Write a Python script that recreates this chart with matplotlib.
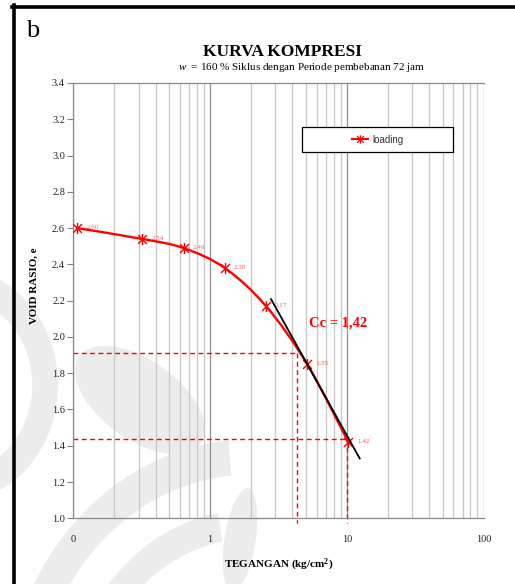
import matplotlib
matplotlib.use("Agg")
import numpy as np
import matplotlib.pyplot as plt
from matplotlib.path import Path
from matplotlib.patches import PathPatch, Rectangle, Ellipse, Wedge
from matplotlib.lines import Line2D
from matplotlib.ticker import FixedLocator, NullFormatter, MultipleLocator, FormatStrFormatter

# loading stage: pressure (kg/cm2) and void ratio
tegangan = [0.107, 0.32, 0.64, 1.28, 2.56, 5.12, 10.24]
void_ratio = [2.60, 2.54, 2.49, 2.38, 2.17, 1.85, 1.42]

# tangent for the compression index
tangent_x = [2.79, 12.4]
tangent_e = [2.208, 1.330]

# construction lines
e_upper, p_upper = 1.912, 4.32
e_lower, p_lower = 1.437, 9.95

x_ticks = [0.1, 1, 10, 100]
x_ticklabels = ["0", "1", "10", "100"]

SERIF = "Liberation Serif"
RED = "#ff0000"

plt.rcParams["mathtext.fontset"] = "custom"
plt.rcParams["mathtext.bf"] = "Liberation Serif:bold"
plt.rcParams["mathtext.rm"] = "Liberation Serif"
plt.rcParams["mathtext.it"] = "Liberation Serif:italic"

fig = plt.figure(figsize=(5.15, 5.84), dpi=100)
ax = fig.add_axes([0.1423, 0.1125, 0.797, 0.7454])
ax.set_facecolor("none")

# faint background watermark
wm = "#ececec"
for art in [
    Wedge((-45 / 515, 1 - 385 / 584), 0.20, -70, 70, width=0.05, transform=fig.transFigure),
    Ellipse((140 / 515, 1 - 400 / 584), 0.28, 0.14, angle=-30, transform=fig.transFigure),
    Wedge((250 / 515, 1 - 720 / 584), 0.48, 95, 175, width=0.06, transform=fig.transFigure),
    Wedge((250 / 515, 1 - 720 / 584), 0.36, 100, 170, width=0.05, transform=fig.transFigure),
    Ellipse((240 / 515, 1 - 540 / 584), 0.06, 0.18, angle=-10, transform=fig.transFigure),
]:
    art.set_facecolor(wm)
    art.set_edgecolor("none")
    art.set_zorder(-5)
    fig.patches.append(art)

ax.set_xscale("log")
ax.set_xlim(0.1, 100)
ax.set_ylim(1.0, 3.4)

# smoothed loading curve, cubic Bezier through the points in screen-like units
ux = np.log10(tegangan) * 136.8
vy = np.array(void_ratio) * 181.6
pts = np.column_stack([ux, vy])
n = len(pts)
tan = np.zeros_like(pts)
for i in range(n):
    a = pts[max(i - 1, 0)]
    b = pts[min(i + 1, n - 1)]
    tan[i] = (b - a) / 6.0
verts = [pts[0]]
codes = [Path.MOVETO]
for i in range(n - 1):
    verts += [pts[i] + tan[i], pts[i + 1] - tan[i + 1], pts[i + 1]]
    codes += [Path.CURVE4] * 3
verts = np.array(verts)
verts = np.column_stack([10 ** (verts[:, 0] / 136.8), verts[:, 1] / 181.6])
ax.add_patch(PathPatch(Path(verts, codes), facecolor="none", edgecolor=RED,
                       lw=1.7, zorder=3, capstyle="round"))

star = Path([(-1, -1), (1, 1), (-1, 1), (1, -1), (0, -1.25), (0, 1.25)],
            [Path.MOVETO, Path.LINETO, Path.MOVETO, Path.LINETO, Path.MOVETO, Path.LINETO])
ax.plot(tegangan, void_ratio, linestyle="none", marker=star, markersize=8,
        markeredgecolor=RED, markerfacecolor="none", markeredgewidth=1.0, zorder=4)

for p, e in zip(tegangan, void_ratio):
    ax.annotate(f"{e:.2f}", (p, e), xytext=(6.5, 0.5), textcoords="offset points",
                fontsize=5, color="#ff5a5a", va="center", ha="left", family=SERIF, zorder=2)

# construction lines
dash = dict(color=RED, lw=1.0, linestyle=(0, (3.5, 2.5)), zorder=2, antialiased=True)
ax.plot([0.1, p_upper], [e_upper, e_upper], **dash)
ax.plot([0.1, p_lower], [e_lower, e_lower], **dash)
ax.plot([p_upper, p_upper], [e_upper, 0.975], clip_on=False, **dash)
ax.plot([p_lower, p_lower], [e_lower, 0.975], clip_on=False, **dash)

ax.plot(tangent_x, tangent_e, color="black", lw=1.3, zorder=5, clip_on=False)

ax.text(0.645, 0.449, "Cc = 1,42", transform=ax.transAxes, ha="center", va="center",
        fontsize=10.5, fontweight="bold", color=RED, family=SERIF)

# axes styling
ax.xaxis.set_major_locator(FixedLocator(x_ticks))
ax.set_xticklabels(x_ticklabels)
ax.xaxis.set_minor_locator(FixedLocator([m * d for d in (0.1, 1, 10) for m in range(2, 10)]))
ax.xaxis.set_minor_formatter(NullFormatter())
ax.grid(True, axis="x", which="major", color="#8f8f8f", lw=0.9)
ax.grid(True, axis="x", which="minor", color="#c6c6c6", lw=0.9)
ax.tick_params(axis="x", which="both", length=0, pad=12, labelsize=7.5)
ax.yaxis.set_major_locator(MultipleLocator(0.2))
ax.yaxis.set_major_formatter(FormatStrFormatter("%.1f"))
ax.tick_params(axis="y", direction="out", length=4, width=0.8, color="#808080",
               labelsize=7.5, pad=2)
for lab in ax.get_xticklabels() + ax.get_yticklabels():
    lab.set_family(SERIF)
    lab.set_color("#222222")
for side in ["left", "bottom", "top"]:
    ax.spines[side].set_color("#8a8a8a")
    ax.spines[side].set_linewidth(0.9)
ax.spines["right"].set_visible(False)

ax.set_xlabel("TEGANGAN (kg/cm$^\\mathbf{2}$)", family=SERIF, fontweight="bold", fontsize=8)
ax.xaxis.set_label_coords(0.501, -0.088)
ax.set_ylabel("VOID RASIO, e", family=SERIF, fontweight="bold", fontsize=8)
ax.yaxis.set_label_coords(-0.083, 0.535)

# legend
ax.add_patch(Rectangle((0.557, 0.841), 0.368, 0.058, transform=ax.transAxes,
                       facecolor="white", edgecolor="black", lw=0.9, zorder=6))
handle = Line2D([], [], color=RED, lw=1.5, marker=star, markersize=6,
                markeredgecolor=RED, markeredgewidth=0.9)
leg = ax.legend([handle], ["loading"], loc="center", bbox_to_anchor=(0.741, 0.870),
                frameon=False, handlelength=1.7, handletextpad=0.4,
                prop={"family": "Liberation Sans", "size": 7})
leg.set_zorder(7)
for t in leg.get_texts():
    t.set_color("#333333")

# titles
fig.text(33 / 515, 1 - 31 / 584, "b", family=SERIF, fontsize=19, ha="center", va="center")
fig.text(282 / 515, 1 - 51.5 / 584, "KURVA KOMPRESI", family=SERIF, fontweight="bold",
         fontsize=12.5, ha="center", va="center")
fig.text(302 / 515, 1 - 67.5 / 584, "$\\mathit{w}$  = 160 % Siklus dengan Periode pembebanan 72 jam",
         family=SERIF, fontsize=8, ha="center", va="center")

# frame
fig.add_artist(Line2D([13.5 / 515, 13.5 / 515], [0, 1 - 5 / 584], color="black", lw=2.6,
                      transform=fig.transFigure))
fig.add_artist(Line2D([12 / 515, 1], [1 - 7 / 584, 1 - 7 / 584], color="black", lw=2.6,
                      transform=fig.transFigure))

fig.savefig("out.png", dpi=100)
